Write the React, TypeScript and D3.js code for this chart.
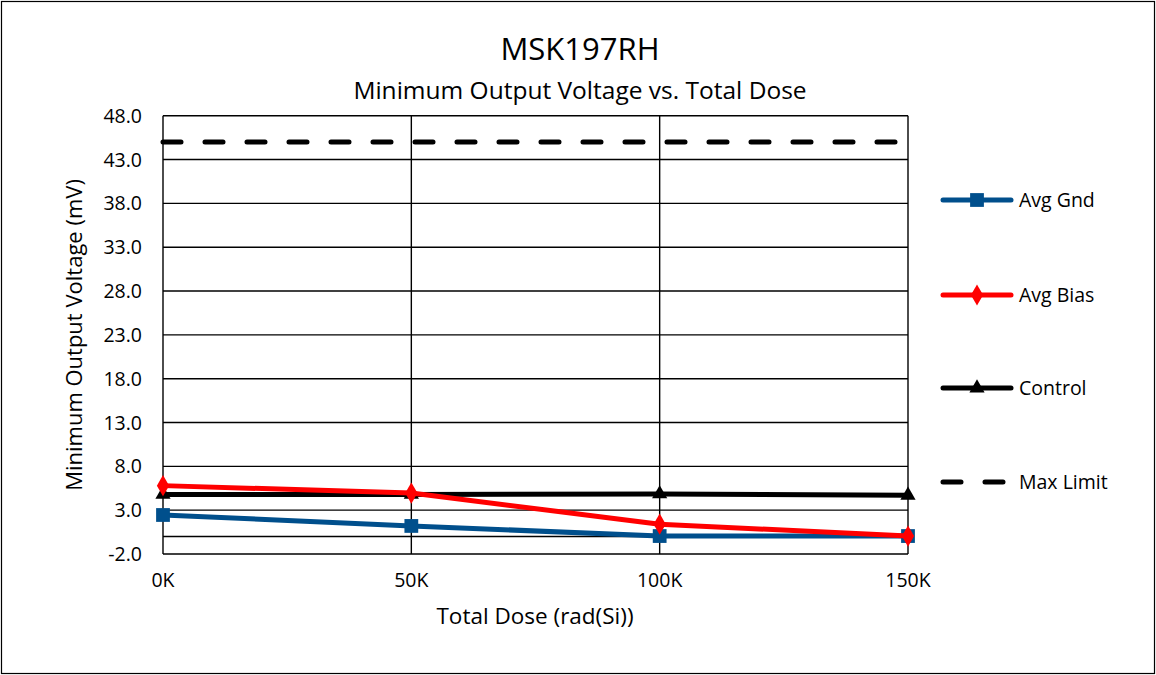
import React, { useEffect, useRef } from "react";
import * as d3 from "d3";

const doses = [0, 50, 100, 150];
const xTickLabels = ["0K", "50K", "100K", "150K"];
const avgGnd = [2.45, 1.2, 0.05, 0.05];
const avgBias = [5.8, 4.95, 1.4, 0.05];
const control = [4.8, 4.8, 4.85, 4.7];
const maxLimit = [45, 45, 45, 45];
const yTicks = [-2, 3, 8, 13, 18, 23, 28, 33, 38, 43, 48];

const W = 1156, H = 675;
const FONT = "'Open Sans', 'Noto Sans', sans-serif";

export default function App() {
  const ref = useRef<SVGSVGElement>(null);
  useEffect(() => {
    const svg = d3.select(ref.current);
    svg.selectAll("*").remove();
    const x = d3.scaleLinear().domain([0, 150]).range([163, 908]);
    const y = d3.scaleLinear().domain([-2, 48]).range([554, 115.7]);

    svg.append("rect").attr("x", 0).attr("y", 0).attr("width", W).attr("height", H).attr("fill", "#fff");
    svg.append("rect").attr("x", 1.5).attr("y", 1.5).attr("width", W - 3).attr("height", H - 3)
      .attr("fill", "none").attr("stroke", "#000").attr("stroke-width", 1.2);

    svg.append("text").attr("x", 580).attr("y", 60).attr("text-anchor", "middle")
      .attr("font-family", FONT).attr("font-size", 31).text("MSK197RH");
    svg.append("text").attr("x", 580).attr("y", 99).attr("text-anchor", "middle")
      .attr("font-family", FONT).attr("font-size", 24.5).text("Minimum Output Voltage vs. Total Dose");

    const g = svg.append("g");
    g.selectAll("line.h").data(yTicks).join("line")
      .attr("x1", x(0)).attr("x2", x(150)).attr("y1", d => y(d)).attr("y2", d => y(d))
      .attr("stroke", "#000").attr("stroke-width", 1.4);
    g.append("line").attr("x1", x(0)).attr("x2", x(150)).attr("y1", y(0)).attr("y2", y(0))
      .attr("stroke", "#000").attr("stroke-width", 1.4);
    g.selectAll("line.v").data(doses).join("line")
      .attr("x1", d => x(d)).attr("x2", d => x(d)).attr("y1", y(48)).attr("y2", y(-2))
      .attr("stroke", "#000").attr("stroke-width", 1.4);

    g.selectAll("text.yt").data(yTicks).join("text")
      .attr("x", 142).attr("y", d => y(d) + 7).attr("text-anchor", "end")
      .attr("font-family", FONT).attr("font-size", 19.5).text(d => d.toFixed(1));
    g.selectAll("text.xt").data(doses).join("text")
      .attr("x", d => x(d)).attr("y", 587).attr("text-anchor", "middle")
      .attr("font-family", FONT).attr("font-size", 19.5).text((d, i) => xTickLabels[i]);

    svg.append("text").attr("x", 535).attr("y", 624).attr("text-anchor", "middle")
      .attr("font-family", FONT).attr("font-size", 22.5).text("Total Dose (rad(Si))");
    svg.append("text").attr("transform", `translate(82,335) rotate(-90)`).attr("text-anchor", "middle")
      .attr("font-family", FONT).attr("font-size", 22).text("Minimum Output Voltage (mV)");

    const line = d3.line<number>().x((d, i) => x(doses[i])).y(d => y(d));

    g.append("path").attr("d", line(maxLimit)!).attr("fill", "none").attr("stroke", "#000")
      .attr("stroke-width", 5).attr("stroke-dasharray", "18 24").attr("stroke-linecap", "round");

    const series = [
      { name: "Avg Gnd", vals: avgGnd, color: "#004f8c", sym: d3.symbolSquare, size: 190 },
      { name: "Avg Bias", vals: avgBias, color: "#ff0000", sym: d3.symbolDiamond, size: 130 },
      { name: "Control", vals: control, color: "#000000", sym: d3.symbolTriangle, size: 100 },
    ];
    const order = [2, 0, 1];
    order.forEach(k => {
      const s = series[k];
      g.append("path").attr("d", line(s.vals)!).attr("fill", "none").attr("stroke", s.color)
        .attr("stroke-width", 5).attr("stroke-linejoin", "round");
      g.selectAll(null).data(s.vals).join("path")
        .attr("transform", (d, i) => `translate(${x(doses[i])},${y(d)})`)
        .attr("d", d3.symbol().type(s.sym).size(s.size)()!)
        .attr("fill", s.color);
    });

    const legY = [200, 295, 388, 482];
    series.forEach((s, i) => {
      const lg = svg.append("g");
      lg.append("line").attr("x1", 943).attr("x2", 1011).attr("y1", legY[i]).attr("y2", legY[i])
        .attr("stroke", s.color).attr("stroke-width", 5).attr("stroke-linecap", "round");
      lg.append("path").attr("transform", `translate(977,${legY[i]})`)
        .attr("d", d3.symbol().type(s.sym).size(s.size)()!).attr("fill", s.color);
      lg.append("text").attr("x", 1019).attr("y", legY[i] + 7).attr("font-family", FONT)
        .attr("font-size", 19.5).text(s.name);
    });
    svg.append("line").attr("x1", 943).attr("x2", 1011).attr("y1", legY[3]).attr("y2", legY[3])
      .attr("stroke", "#000").attr("stroke-width", 5).attr("stroke-dasharray", "18 24")
      .attr("stroke-linecap", "round");
    svg.append("text").attr("x", 1019).attr("y", legY[3] + 7).attr("font-family", FONT)
      .attr("font-size", 19.5).text("Max Limit");
  }, []);
  return (
    <div style={{ position: "absolute", left: 0, top: 0 }}>
      <svg ref={ref} width={W} height={H} />
    </div>
  );
}
